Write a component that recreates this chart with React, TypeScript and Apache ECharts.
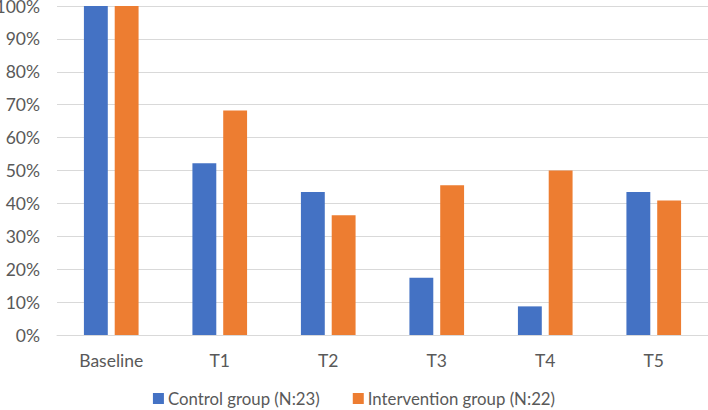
import React, { useEffect, useRef } from "react";
import * as echarts from "echarts";

const categories = ["Baseline", "T1", "T2", "T3", "T4", "T5"];
const controlValues = [100, 52.2, 43.5, 17.4, 8.7, 43.5];
const interventionValues = [100, 68.2, 36.4, 45.5, 50, 40.9];
const seriesNames = ["Control group (N:23)", "Intervention group (N:22)"];
const colors = ["#4472C4", "#ED7D31"];

export default function App() {
  const ref = useRef<HTMLDivElement>(null);
  useEffect(() => {
    if (!ref.current) return;
    const chart = echarts.init(ref.current, undefined, { renderer: "svg" });
    const font = "Lato, 'Open Sans', sans-serif";
    chart.setOption({
      animation: false,
      backgroundColor: "#ffffff",
      textStyle: { fontFamily: font },
      grid: {
        left: 57,
        right: 0,
        top: 6,
        bottom: 75,
        containLabel: false,
        outerBoundsMode: "none",
      },
      legend: {
        top: 385,
        left: "center",
        itemWidth: 11,
        itemHeight: 11,
        itemGap: 33,
        icon: "rect",
        textStyle: { color: "#595959", fontSize: 16.8, fontFamily: font, padding: [0, 0, 0, -1] },
        data: seriesNames,
      },
      xAxis: {
        type: "category",
        data: categories,
        axisLine: { show: true, lineStyle: { color: "#d9d9d9", width: 1 } },
        axisTick: { show: false },
        axisLabel: { color: "#595959", fontSize: 17.5, margin: 16, fontFamily: font },
      },
      yAxis: {
        type: "value",
        min: 0,
        max: 100,
        interval: 10,
        axisLine: { show: false },
        axisTick: { show: false },
        splitLine: { lineStyle: { color: "#d9d9d9", width: 1 } },
        axisLabel: {
          color: "#595959",
          fontSize: 17.5,
          margin: 17,
          fontFamily: font,
          formatter: (v: number) => `${v}%`,
        },
      },
      series: [
        {
          name: seriesNames[0],
          type: "bar",
          data: controlValues,
          barWidth: "22%",
          barGap: "29%",
          itemStyle: { color: colors[0] },
        },
        {
          name: seriesNames[1],
          type: "bar",
          data: interventionValues,
          barWidth: "22%",
          itemStyle: { color: colors[1] },
        },
      ],
    });
    return () => chart.dispose();
  }, []);
  return (
    <div
      ref={ref}
      style={{ position: "fixed", left: 0, top: 0, width: 708, height: 410 }}
    />
  );
}
